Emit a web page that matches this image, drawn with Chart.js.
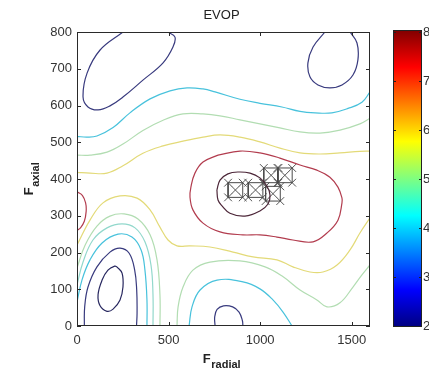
<!DOCTYPE html>
<html><head><meta charset="utf-8">
<script src="https://cdn.jsdelivr.net/npm/chart.js@4.4.1/dist/chart.umd.min.js"></script>
<style>html,body{margin:0;padding:0;background:#fff;}#wrap{width:429px;height:373px;position:relative;}</style>
</head><body><div id="wrap"><canvas id="c"></canvas></div>
<script>
// ---------- text ----------
const chartTitle = 'EVOP';
const xLabel = ['F', 'radial'];
const yLabel = ['F', 'axial'];

// ---------- axes ----------
const xRange = [0, 1600];
const yRange = [0, 800];
const cRange = [2, 8];
const xTicks = [0, 500, 1000, 1500];
const yTicks = [0, 100, 200, 300, 400, 500, 600, 700, 800];
const cTicks = [2, 3, 4, 5, 6, 7, 8];

// ---------- contour lines [F_radial, F_axial] ----------
const topLeftL3 = [[251,800],[126,751],[55,688],[33,623],[60,596],[115,588],[180,599],[251,623],[360,669],[470,716],[524,759],[535,786],[497,800]];
const topRightL3 = [[1354,800],[1289,759],[1261,716],[1272,678],[1316,656],[1381,648],[1447,656],[1507,683],[1534,724],[1529,770],[1491,800]];
const upperL4 = [[0,516],[55,514],[109,517],[197,540],[289,580],[399,618],[508,640],[601,648],[688,645],[754,637],[890,617],[999,606],[1119,596],[1218,584],[1300,580],[1392,580],[1480,592],[1556,609],[1600,637]];
const upperL5 = [[0,465],[71,465],[164,473],[251,495],[360,532],[470,560],[579,577],[688,577],[781,572],[890,561],[999,550],[1108,539],[1218,528],[1327,525],[1436,533],[1545,550],[1600,565]];
const upperL6 = [[0,418],[71,416],[164,416],[251,436],[360,470],[470,490],[579,503],[688,514],[781,520],[890,514],[999,501],[1108,484],[1218,471],[1327,468],[1436,471],[1545,475],[1600,476]];
const centerL7 = [[770,465],[890,476],[999,471],[1108,457],[1218,438],[1310,424],[1381,405],[1425,378],[1447,348],[1447,335],[1425,288],[1365,253],[1289,229],[1179,234],[1092,242],[999,248],[906,248],[781,256],[688,280],[633,316],[617,351],[622,378],[644,416],[688,446],[770,465]];
const centerL75 = [[764,370],[781,397],[824,414],[879,419],[945,416],[999,403],[1037,381],[1054,356],[1043,332],[999,313],[917,299],[835,307],[792,327],[770,343],[764,370]];
const leftL7 = [[0,365],[30,355],[47,335],[50,312],[40,285],[20,268],[0,260]];
const lowerL6 = [[0,220],[71,288],[142,335],[235,354],[328,348],[399,316],[453,269],[497,234],[546,218],[617,218],[726,215],[852,201],[961,188],[1092,180],[1179,161],[1272,147],[1343,147],[1420,166],[1491,207],[1545,253],[1600,294]];
const bottomLeftL25 = [[218,161],[246,144],[251,106],[235,71],[197,46],[164,40],[126,55],[115,85],[137,125],[169,152],[207,163],[218,161]];
const bottomLeftL3 = [[40,0],[42,52],[60,106],[109,161],[180,201],[235,212],[285,198],[315,152],[326,98],[328,35],[325,0]];
const bottomLeftL4 = [[0,65],[27,125],[71,180],[137,226],[224,250],[300,242],[350,207],[371,152],[382,71],[382,0]];
const bottomLeftL45 = [[0,112],[33,174],[87,234],[164,267],[246,278],[317,267],[371,229],[404,166],[415,84],[415,0]];
const bottomLeftL5 = [[0,158],[44,220],[109,272],[180,299],[257,305],[333,291],[399,248],[437,180],[453,84],[453,0]];
const bottomMidL3 = [[754,0],[752,25],[765,45],[800,55],[850,52],[885,38],[903,15],[906,0]];
const bottomMidL4 = [[612,0],[628,52],[672,98],[765,125],[906,120],[999,101],[1070,71],[1125,38],[1174,0]];
const bottomMidL5 = [[546,0],[552,52],[579,106],[633,152],[726,174],[890,177],[1027,161],[1120,136],[1218,98],[1310,71],[1365,52],[1436,63],[1507,106],[1556,139],[1600,166]];

// ---------- EVOP cycles (square designs + centre points) ----------
const evopCycle1 = [[825,350],[905,350],[905,390],[825,390],[825,350]];
const evopCycle2 = [[935,350],[1015,350],[1015,390],[935,390],[935,350]];
const evopCycle3 = [[1030,340],[1110,340],[1110,380],[1030,380],[1030,340]];
const evopCycle4 = [[1020,390],[1100,390],[1100,430],[1020,430],[1020,390]];
const evopCycle5 = [[1095,390],[1175,390],[1175,430],[1095,430],[1095,390]];
const evopCentres = [[865,370],[975,370],[1070,360],[1060,410],[1135,410]];

// ---------- styling ----------
const levelColor = {2.5:'#27275f',3:'#383a7e',4:'#48c2dc',4.5:'#92d8cc',5:'#b2ddb2',6:'#e3da78',7:'#b23c4e',7.5:'#4c2638'};
const contours = [
  [topLeftL3,3],[topRightL3,3],[upperL4,4],[upperL5,5],[upperL6,6],[centerL7,7],[centerL75,7.5],[leftL7,7],
  [lowerL6,6],[bottomLeftL25,2.5],[bottomLeftL3,3],[bottomLeftL4,4],[bottomLeftL45,4.5],[bottomLeftL5,5],
  [bottomMidL3,3],[bottomMidL4,4],[bottomMidL5,5]
];
const toXY = a => a.map(p => ({x:p[0], y:p[1]}));
const datasets = contours.map(([pts,lvl]) => ({
  data: toXY(pts), showLine:true, borderColor: levelColor[lvl], borderWidth:1.2,
  pointRadius:0, tension:0.4, fill:false
}));
const cycles = [evopCycle1,evopCycle2,evopCycle3,evopCycle4,evopCycle5];
cycles.forEach(c => {
  datasets.push({data: toXY(c), showLine:true, borderColor:'#4a4a4a', borderWidth:1, pointRadius:0, tension:0});
});
const markerPts = [];
cycles.forEach(c => c.slice(0,4).forEach(p => markerPts.push(p)));
evopCentres.forEach(p => markerPts.push(p));
datasets.push({data: toXY(markerPts), showLine:false, pointStyle:'crossRot', pointRadius:5.5,
  borderColor:'#555', borderWidth:1, backgroundColor:'#555'});

const FONT = '"Liberation Sans", Arial, sans-serif';

const decor = {
  id:'decor',
  afterDatasetsDraw(chart){
    const {ctx, chartArea:a, scales} = chart;
    ctx.save();
    ctx.strokeStyle = '#2a2a2a'; ctx.lineWidth = 1;
    ctx.strokeRect(Math.round(a.left)+0.5, Math.round(a.top)+0.5, Math.round(a.right-a.left)-1, Math.round(a.bottom-a.top)-1);
    ctx.beginPath();
    xTicks.forEach(v => {
      const px = Math.round(scales.x.getPixelForValue(v))+0.5;
      ctx.moveTo(px, a.bottom); ctx.lineTo(px, a.bottom-4);
      ctx.moveTo(px, a.top); ctx.lineTo(px, a.top+4);
    });
    yTicks.forEach(v => {
      const py = Math.round(scales.y.getPixelForValue(v))+0.5;
      ctx.moveTo(a.left, py); ctx.lineTo(a.left+4, py);
      ctx.moveTo(a.right, py); ctx.lineTo(a.right-4, py);
    });
    ctx.stroke();
    ctx.restore();
  },
  afterDraw(chart){
    const {ctx, chartArea:a, scales} = chart;
    ctx.save();
    // colour bar
    const cb = scales.cb;
    const top = cb.getPixelForValue(cRange[1]) - 2, bot = cb.getPixelForValue(cRange[0]) + 1;
    const x0 = cb.left + 23, x1 = cb.left + 52;
    const g = ctx.createLinearGradient(0, bot, 0, top);
    g.addColorStop(0, 'rgb(0,0,128)');
    g.addColorStop(0.125, 'rgb(0,0,255)');
    g.addColorStop(0.375, 'rgb(0,255,255)');
    g.addColorStop(0.625, 'rgb(255,255,0)');
    g.addColorStop(0.875, 'rgb(255,0,0)');
    g.addColorStop(1, 'rgb(128,0,0)');
    ctx.fillStyle = g;
    ctx.fillRect(x0, top, x1-x0, bot-top);
    ctx.strokeStyle = '#222'; ctx.lineWidth = 1;
    ctx.strokeRect(Math.round(x0)+0.5, Math.round(top)+0.5, Math.round(x1-x0)-1, Math.round(bot-top)-1);
    ctx.beginPath();
    cTicks.forEach(v => {
      const py = Math.round(cb.getPixelForValue(v))+0.5;
      ctx.moveTo(x0, py); ctx.lineTo(x0+3, py);
      ctx.moveTo(x1, py); ctx.lineTo(x1-3, py);
    });
    ctx.stroke();
    // title
    ctx.fillStyle = '#222';
    ctx.font = '13px ' + FONT;
    ctx.textAlign = 'center'; ctx.textBaseline = 'middle';
    ctx.fillText(chartTitle, (a.left+a.right)/2 - 2, 15);
    // x label
    ctx.textAlign = 'left'; ctx.textBaseline = 'alphabetic';
    ctx.font = 'bold 13px ' + FONT;
    const wF = ctx.measureText(xLabel[0]).width;
    ctx.font = 'bold 11px ' + FONT;
    const wS = ctx.measureText(xLabel[1]).width;
    let sx = (a.left+a.right)/2 - 2 - (wF+wS)/2;
    ctx.font = 'bold 13px ' + FONT; ctx.fillText(xLabel[0], sx, 362.5);
    ctx.font = 'bold 11px ' + FONT; ctx.fillText(xLabel[1], sx + wF + 0.5, 368);
    // y label (rotated)
    ctx.font = 'bold 11px ' + FONT;
    const wSy = ctx.measureText(yLabel[1]).width;
    const cy = (a.top+a.bottom)/2;
    ctx.translate(33, cy + (wF+wSy)/2);
    ctx.rotate(-Math.PI/2);
    ctx.font = 'bold 13px ' + FONT; ctx.fillText(yLabel[0], 0, 0);
    ctx.font = 'bold 11px ' + FONT; ctx.fillText(yLabel[1], wF + 0.5, 5.5);
    ctx.restore();
  }
};

const tickFont = {family: FONT, size: 13};
const plain = v => String(v);
new Chart(document.getElementById('c'), {
  type:'scatter',
  data:{datasets},
  options:{
    responsive:true, maintainAspectRatio:false, animation:false,
    layout:{padding:{top:32, left:0, right:0, bottom:0}},
    plugins:{legend:{display:false}, tooltip:{enabled:false}, title:{display:false}},
    scales:{
      x:{type:'linear', position:'bottom', min:xRange[0], max:xRange[1],
        grid:{display:false, drawTicks:false}, border:{display:false},
        afterBuildTicks: s => { s.ticks = xTicks.map(v => ({value:v})); },
        afterFit: s => { s.height = 47; s.paddingLeft = 0; s.paddingRight = 0; },
        ticks:{font:tickFont, color:'#333', padding:7, maxRotation:0, autoSkip:false, callback:plain}},
      y:{type:'linear', position:'left', min:yRange[0], max:yRange[1],
        grid:{display:false, drawTicks:false}, border:{display:false},
        afterBuildTicks: s => { s.ticks = yTicks.map(v => ({value:v})); },
        afterFit: s => { s.width = 77; s.paddingTop = 0; s.paddingBottom = 0; },
        ticks:{font:tickFont, color:'#333', padding:5, autoSkip:false, callback:plain}},
      cb:{type:'linear', position:'right', min:cRange[0], max:cRange[1],
        grid:{display:false, drawTicks:false}, border:{display:false},
        afterBuildTicks: s => { s.ticks = cTicks.map(v => ({value:v})); },
        afterFit: s => { s.width = 59; s.paddingTop = 0; s.paddingBottom = 0; },
        ticks:{font:tickFont, color:'#333', padding:53, autoSkip:false, callback:plain}}
    }
  },
  plugins:[decor]
});
</script></body></html>
